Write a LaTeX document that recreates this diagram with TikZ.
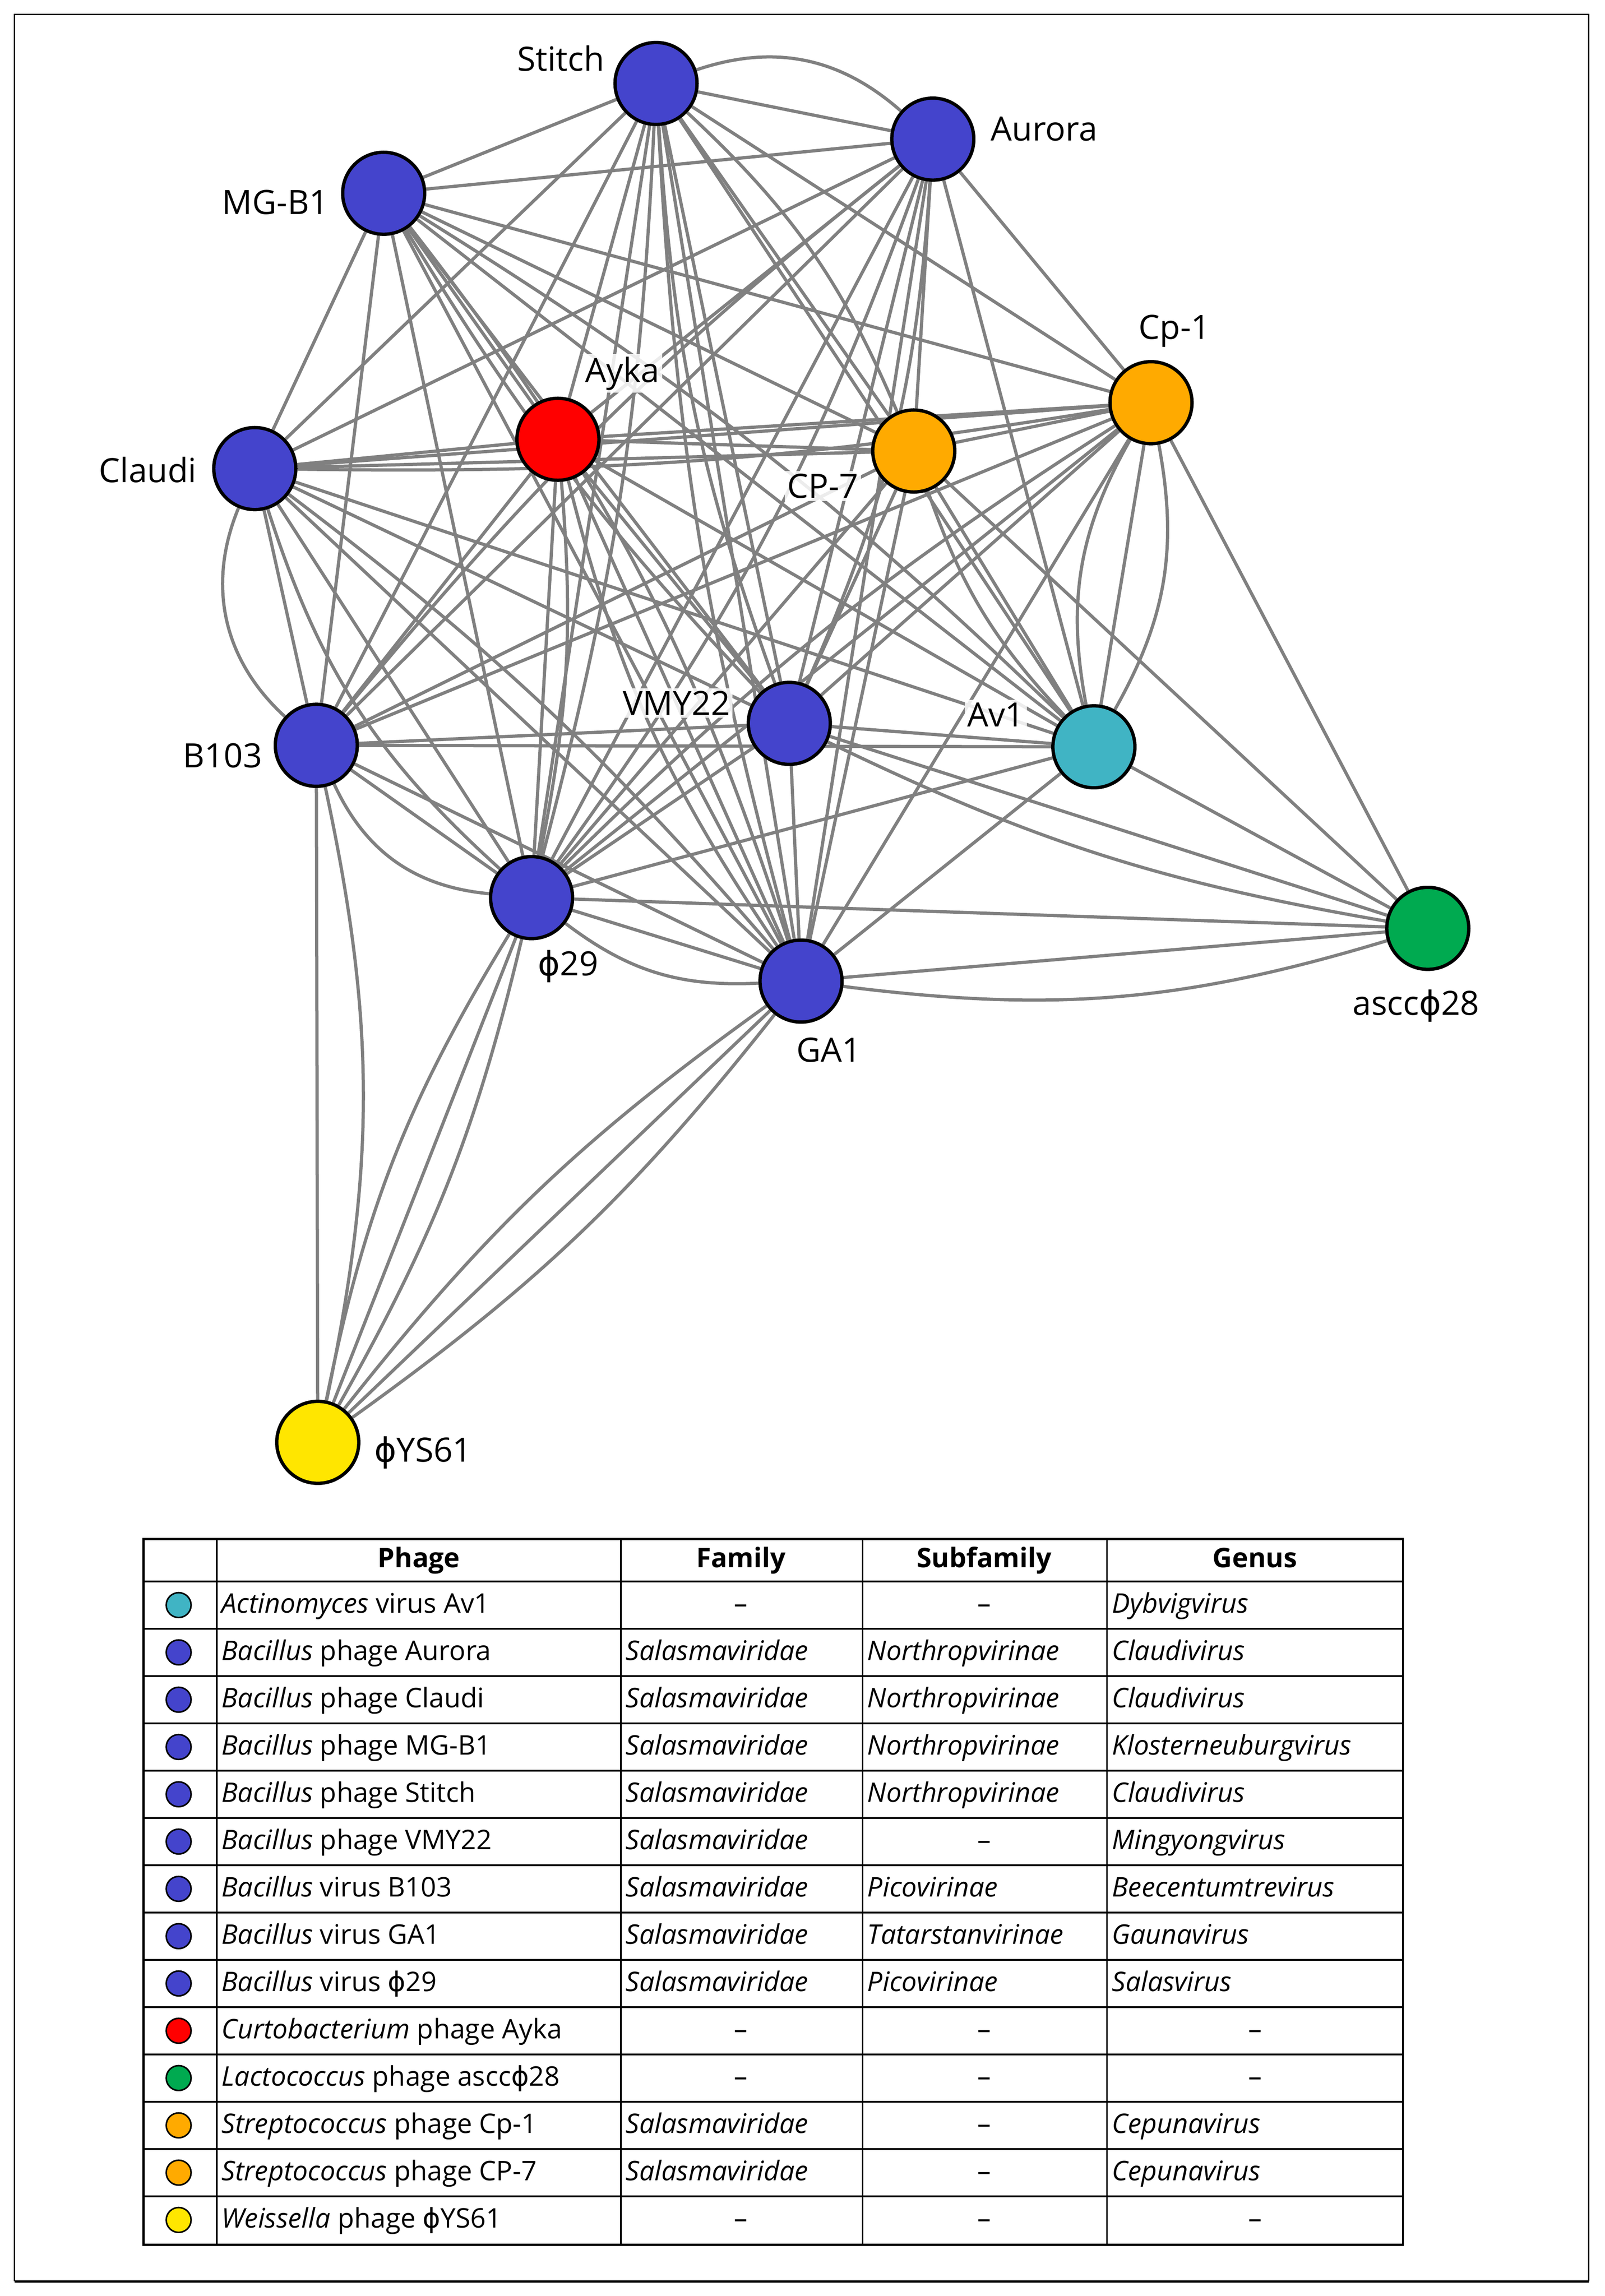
\documentclass[tikz,border=0pt]{standalone}
\usepackage{fontspec}
\setmainfont{Open Sans}
\newfontfamily\gk{DejaVu Sans}
\newcommand{\ph}{{\gk ϕ}}
\usetikzlibrary{backgrounds}
\definecolor{nblue}{RGB}{68,68,204}
\definecolor{nred}{RGB}{255,0,0}
\definecolor{norange}{RGB}{255,170,0}
\definecolor{ncyan}{RGB}{64,180,196}
\definecolor{ngreen}{RGB}{0,170,80}
\definecolor{nyellow}{RGB}{255,230,0}
\definecolor{egray}{RGB}{128,128,128}
\newlength{\unitlen}\setlength{\unitlen}{0.02cm}
\tikzset{
  phn/.style={circle,draw=black,line width=1.3pt,minimum size=56\unitlen,inner sep=0pt},
  lab/.style={font=\fontsize{13}{15}\selectfont},
  wlab/.style={lab,fill=white,fill opacity=0.85,text opacity=1,inner sep=1pt},
  ed/.style={draw=egray,line width=1.25pt},
  tt/.style={font=\fontsize{10.5}{12}\selectfont,anchor=west,inner sep=0pt,text height=7pt,text depth=2.5pt},
  th/.style={font=\fontsize{10.5}{12}\selectfont\bfseries,inner sep=0pt,text height=7pt,text depth=2.5pt},
  dot/.style={circle,draw=black,line width=0.6pt,minimum size=17\unitlen,inner sep=0pt}
}
\def\dash{–}
\begin{document}
\begin{tikzpicture}[x={(0.02cm,0)},y={(0,-0.02cm)}]
\useasboundingbox (0,0) rectangle (1095.9,1568);
\draw[line width=0.5pt] (10,1558) -- (10,10) -- (1085,10) -- (1085,1558);
\draw[line width=0.9pt] (10,1558) -- (1085,1558);
% nodes
\node[phn,fill=nblue] (st) at (448,57) {};
\node[phn,fill=nblue] (au) at (637,95) {};
\node[phn,fill=nblue] (mg) at (262,132) {};
\node[phn,fill=norange] (cpa) at (786,275) {};
\node[phn,fill=nred] (ay) at (381,300) {};
\node[phn,fill=norange] (cpb) at (624,308) {};
\node[phn,fill=nblue] (cl) at (174,320) {};
\node[phn,fill=nblue] (vm) at (539,494) {};
\node[phn,fill=ncyan] (av) at (747,510) {};
\node[phn,fill=nblue] (bo) at (216,509) {};
\node[phn,fill=nblue] (pn) at (363,613) {};
\node[phn,fill=nblue] (ga) at (547,670) {};
\node[phn,fill=ngreen] (as) at (975,634) {};
\node[phn,fill=nyellow] (ys) at (217,985) {};
\begin{scope}[on background layer]
\foreach \a/\b in {st/au,st/mg,st/cpa,st/ay,st/cpb,st/cl,st/vm,st/av,st/bo,st/pn,st/ga,
au/mg,au/cpa,au/ay,au/cpb,au/cl,au/vm,au/av,au/bo,au/pn,au/ga,
mg/cpa,mg/ay,mg/cpb,mg/cl,mg/vm,mg/av,mg/bo,mg/pn,mg/ga,
cpa/ay,cpa/cpb,cpa/cl,cpa/vm,cpa/av,cpa/bo,cpa/pn,cpa/ga,
ay/cpb,ay/cl,ay/vm,ay/av,ay/bo,ay/pn,ay/ga,
cpb/cl,cpb/vm,cpb/av,cpb/bo,cpb/pn,cpb/ga,
cl/vm,cl/av,cl/bo,cl/pn,cl/ga,
vm/av,vm/bo,vm/pn,vm/ga,
av/bo,av/pn,av/ga,
bo/pn,bo/ga,pn/ga,
as/cpa,as/cpb,as/vm,as/av,as/pn,as/ga,
ys/bo,ys/pn,ys/ga}
  \draw[ed] (\a) -- (\b);
\foreach \a/\b/\c in {st/au/30,cl/bo/-35,bo/pn/-30,pn/ga/-20,ga/as/-12,cpa/av/20,av/cpa/20,
st/cpb/12,au/vm/10,mg/ga/10,cl/pn/-15,ay/ga/-10,vm/as/-8,ys/bo/-12,ys/pn/10,ys/ga/8,ys/ga/-8,ys/pn/-8,cpb/av/-12,st/vm/-8,
st/pn/6,au/bo/-6,mg/av/6,cl/cpa/-5,ay/pn/8,st/ga/-6,au/pn/8,cpa/pn/-6,cl/ga/6,mg/vm/-6}
  \draw[ed] (\a) to[bend left=\c] (\b);
\end{scope}
% labels
\node[lab] at (383,40) {Stitch};
\node[lab] at (713,88) {Aurora};
\node[lab] at (188,138) {MG-B1};
\node[lab] at (802,226) {Cp-1};
\node[wlab] at (425,255) {Ayka};
\node[wlab] at (562,332) {CP-7};
\node[lab] at (101,321) {Claudi};
\node[wlab] at (462,480) {VMY22};
\node[wlab] at (680,488) {Av1};
\node[lab] at (152,516) {B103};
\node[lab] at (388,660) {\ph29};
\node[lab] at (566,717) {GA1};
\node[lab] at (967,687) {ascc\ph28};
\node[lab] at (289,992) {\ph YS61};
% table
\def\rh{32.3}
\draw[line width=0.8pt] (98,1051) rectangle (958,1533);
\draw[line width=0.6pt] (98,1080) -- (958,1080);
\foreach \i in {1,...,13} \draw[line width=0.6pt] (98,{1080+\i*\rh}) -- (958,{1080+\i*\rh});
\foreach \x in {148,424,589,756} \draw[line width=0.6pt] (\x,1051) -- (\x,1533);
\node[th] at (286,1066.5) {Phage};
\node[th] at (506,1066.5) {Family};
\node[th] at (672,1066.5) {Subfamily};
\node[th] at (857,1066.5) {Genus};
\foreach \col/\p/\f/\s/\g [count=\i from 0] in {
ncyan/{\textit{Actinomyces} virus Av1}/–/–/{\textit{Dybvigvirus}},
nblue/{\textit{Bacillus} phage Aurora}/{\textit{Salasmaviridae}}/{\textit{Northropvirinae}}/{\textit{Claudivirus}},
nblue/{\textit{Bacillus} phage Claudi}/{\textit{Salasmaviridae}}/{\textit{Northropvirinae}}/{\textit{Claudivirus}},
nblue/{\textit{Bacillus} phage MG-B1}/{\textit{Salasmaviridae}}/{\textit{Northropvirinae}}/{\textit{Klosterneuburgvirus}},
nblue/{\textit{Bacillus} phage Stitch}/{\textit{Salasmaviridae}}/{\textit{Northropvirinae}}/{\textit{Claudivirus}},
nblue/{\textit{Bacillus} phage VMY22}/{\textit{Salasmaviridae}}/–/{\textit{Mingyongvirus}},
nblue/{\textit{Bacillus} virus B103}/{\textit{Salasmaviridae}}/{\textit{Picovirinae}}/{\textit{Beecentumtrevirus}},
nblue/{\textit{Bacillus} virus GA1}/{\textit{Salasmaviridae}}/{\textit{Tatarstanvirinae}}/{\textit{Gaunavirus}},
nblue/{\textit{Bacillus} virus \ph29}/{\textit{Salasmaviridae}}/{\textit{Picovirinae}}/{\textit{Salasvirus}},
nred/{\textit{Curtobacterium} phage Ayka}/–/–/–,
ngreen/{\textit{Lactococcus} phage ascc\ph28}/–/–/–,
norange/{\textit{Streptococcus} phage Cp-1}/{\textit{Salasmaviridae}}/–/{\textit{Cepunavirus}},
norange/{\textit{Streptococcus} phage CP-7}/{\textit{Salasmaviridae}}/–/{\textit{Cepunavirus}},
nyellow/{\textit{Weissella} phage \ph YS61}/–/–/–}
{
  \pgfmathsetmacro{\yy}{1080+(\i+0.5)*\rh}
  \pgfmathsetmacro{\ty}{\yy+1.5}
  \node[dot,fill=\col] (d\i) at (122,\yy) {};
  \node[tt] (p\i) at (151,\ty) {\p};
  \ifx\f\dash\node[tt,anchor=center] (f\i) at (506,\ty) {\f};\else\node[tt] (f\i) at (427,\ty) {\f};\fi
  \ifx\s\dash\node[tt,anchor=center] (s\i) at (672,\ty) {\s};\else\node[tt] (s\i) at (592,\ty) {\s};\fi
  \ifx\g\dash\node[tt,anchor=center] (g\i) at (857,\ty) {\g};\else\node[tt] (g\i) at (759,\ty) {\g};\fi
}
\end{tikzpicture}
\end{document}
